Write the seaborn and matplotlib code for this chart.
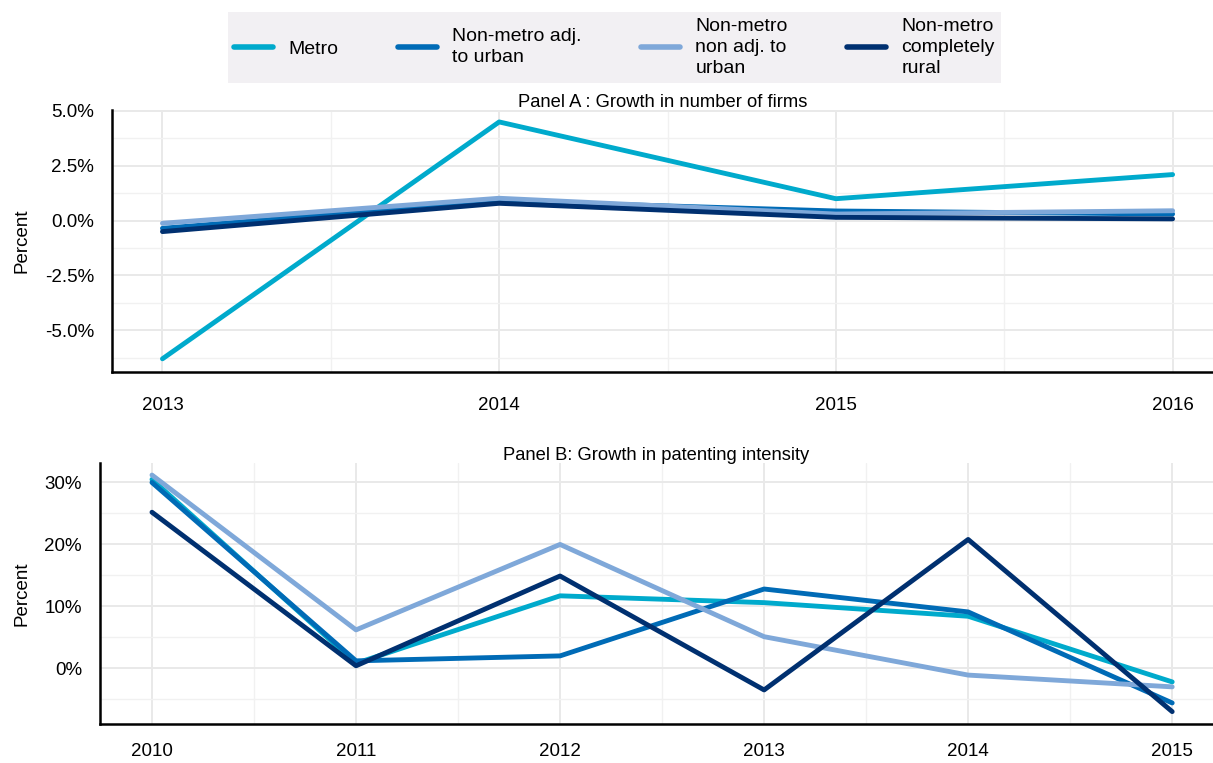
import numpy as np
import pandas as pd
import matplotlib
matplotlib.use("Agg")
import matplotlib.pyplot as plt
from matplotlib.ticker import FuncFormatter, MultipleLocator
from matplotlib.lines import Line2D
import seaborn as sns

series = ["Metro", "Non-metro adj.\nto urban", "Non-metro\nnon adj. to\nurban", "Non-metro\ncompletely\nrural"]
colors = ["#00AACC", "#006BB6", "#7FA8D9", "#003070"]

years_a = [2013, 2014, 2015, 2016]
metro_a = [-6.3, 4.5, 1.0, 2.1]
adj_a = [-0.35, 0.9, 0.44, 0.3]
nonadj_a = [-0.12, 1.02, 0.3, 0.45]
rural_a = [-0.5, 0.79, 0.15, 0.08]

years_b = [2010, 2011, 2012, 2013, 2014, 2015]
metro_b = [30.5, 0.8, 11.7, 10.6, 8.4, -2.2]
adj_b = [30.0, 1.2, 2.0, 12.8, 9.1, -5.6]
nonadj_b = [31.2, 6.2, 20.0, 5.1, -1.1, -3.0]
rural_b = [25.2, 0.4, 14.9, -3.5, 20.8, -7.0]

title_a = "Panel A : Growth in number of firms"
title_b = "Panel B: Growth in patenting intensity"
ylabel = "Percent"


def long(years, vals):
    rows = []
    for name, v in zip(series, vals):
        for y, x in zip(years, v):
            rows.append({"year": y, "value": x, "series": name})
    return pd.DataFrame(rows)


df_a = long(years_a, [metro_a, adj_a, nonadj_a, rural_a])
df_b = long(years_b, [metro_b, adj_b, nonadj_b, rural_b])

sns.set_theme(style="white")
plt.rcParams["font.family"] = ["Liberation Sans", "DejaVu Sans"]
plt.rcParams["axes.unicode_minus"] = False
plt.rcParams["text.color"] = "black"
plt.rcParams["axes.labelcolor"] = "black"
plt.rcParams["xtick.color"] = "black"
plt.rcParams["ytick.color"] = "black"

fig = plt.figure(figsize=(12.13, 7.63), dpi=100)
ax_a = fig.add_axes([0.0923, 0.5125, 0.9077, 0.3435])
ax_b = fig.add_axes([0.0824, 0.0511, 0.9176, 0.3425])

pal = dict(zip(series, colors))


def style(ax, years, fmt, major, minor, xlim, ylim, title, xpad):
    ax.set_xlim(*xlim)
    ax.set_ylim(*ylim)
    ax.set_xticks(years)
    ax.set_xticklabels([str(y) for y in years])
    ax.xaxis.set_minor_locator(MultipleLocator(0.5))
    ax.yaxis.set_major_locator(MultipleLocator(major))
    ax.yaxis.set_minor_locator(MultipleLocator(minor))
    ax.yaxis.set_major_formatter(FuncFormatter(fmt))
    ax.grid(True, which="major", color="#E9E9E9", linewidth=1.4)
    ax.grid(True, which="minor", color="#F1F1F1", linewidth=1.0)
    ax.set_axisbelow(True)
    for s in ["top", "right"]:
        ax.spines[s].set_visible(False)
    for s in ["left", "bottom"]:
        ax.spines[s].set_color("black")
        ax.spines[s].set_linewidth(1.8)
    ax.tick_params(axis="both", which="major", labelsize=13.5, length=4, width=1,
                   color="black", direction="inout")
    ax.tick_params(axis="y", which="major", pad=11)
    ax.tick_params(axis="x", which="major", pad=xpad)
    ax.tick_params(axis="both", which="minor", length=0)
    ax.set_xlabel("")
    ax.set_ylabel(ylabel, fontsize=13.5, labelpad=10)
    ax.set_title(title, fontsize=13.2, pad=2)
    if ax.get_legend():
        ax.get_legend().remove()


sns.lineplot(data=df_a, x="year", y="value", hue="series", palette=pal,
             linewidth=3.5, ax=ax_a, hue_order=series)
sns.lineplot(data=df_b, x="year", y="value", hue="series", palette=pal,
             linewidth=3.5, ax=ax_b, hue_order=series)

style(ax_a, years_a, lambda v, p: f"{v:.1f}%", 2.5, 1.25,
      (2012.85, 2016.12), (-6.9, 5.05), title_a, 16)
style(ax_b, years_b, lambda v, p: f"{v:.0f}%", 10, 5,
      (2009.745, 2015.2), (-9.0, 33.2), title_b, 12)

handles = [Line2D([0], [0], color=c, linewidth=4) for c in colors]
leg = fig.legend(handles, series, loc="upper center", bbox_to_anchor=(0.5065, 0.984),
                 ncol=4, frameon=True, fontsize=14, handlelength=2.0,
                 columnspacing=3.05, handletextpad=0.8, borderpad=0.3,
                 borderaxespad=0.0, fancybox=False, labelspacing=0.2)
leg.get_frame().set_facecolor("#EFEDF0")
leg.get_frame().set_edgecolor("none")
for t in leg.get_texts():
    t.set_linespacing(1.3)

fig.savefig("out.png", dpi=100)
